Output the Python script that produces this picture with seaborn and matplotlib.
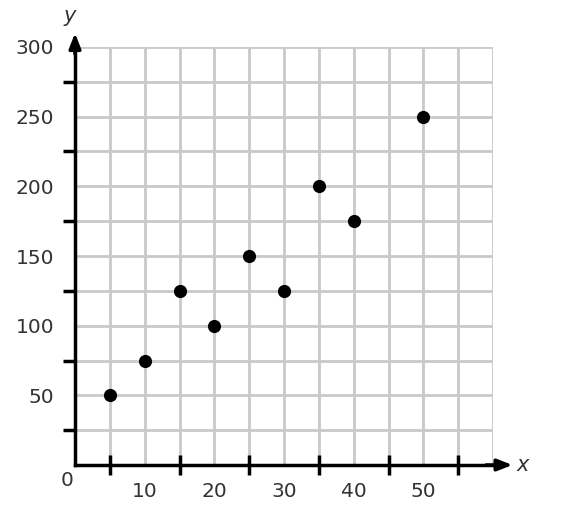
import numpy as np
import pandas as pd
import matplotlib
matplotlib.use("Agg")
import matplotlib.pyplot as plt
import seaborn as sns
from matplotlib.ticker import FixedLocator

x_vals = [5, 10, 15, 20, 25, 30, 35, 40, 50]
y_vals = [50, 75, 125, 100, 150, 125, 200, 175, 250]
x_tick_labels = [10, 20, 30, 40, 50]
y_tick_labels = [50, 100, 150, 200, 250, 300]

sns.set_style("white")
plt.rcParams['font.family'] = ['DejaVu Sans']

fig = plt.figure(figsize=(5.62, 5.18), dpi=100)
ax = fig.add_axes([75/562, 53/518, 418/562, 418/518])
ax.set_axisbelow(False)

df = pd.DataFrame({"x": x_vals, "y": y_vals})

ax.set_xlim(0, 60)
ax.set_ylim(0, 300)

grid_c = "#c9c9c9"
for gx in np.arange(5, 61, 5):
    ax.axvline(gx, color=grid_c, lw=2, zorder=1)
for gy in np.arange(25, 301, 25):
    ax.axhline(gy, color=grid_c, lw=2, zorder=1)

sns.scatterplot(data=df, x="x", y="y", ax=ax, color="black", s=90,
                edgecolor="black", linewidth=0, zorder=5)

for side in ["top", "right"]:
    ax.spines[side].set_visible(False)
for side in ["left", "bottom"]:
    ax.spines[side].set_color("black")
    ax.spines[side].set_linewidth(2.5)
    ax.spines[side].set_zorder(4)

# arrows
ax.annotate("", xy=(62.8, 0), xytext=(59, 0), xycoords="data",
            arrowprops=dict(arrowstyle="-|>,head_length=0.9,head_width=0.35",
                            color="black", lw=2.5, shrinkA=0, shrinkB=0),
            annotation_clip=False, zorder=6)
ax.annotate("", xy=(0, 310), xytext=(0, 295), xycoords="data",
            arrowprops=dict(arrowstyle="-|>,head_length=0.9,head_width=0.35",
                            color="black", lw=2.5, shrinkA=0, shrinkB=0),
            annotation_clip=False, zorder=6)

# x ticks: labels at 10s, marks at odd multiples of 5
ax.xaxis.set_major_locator(FixedLocator(x_tick_labels))
ax.set_xticklabels([str(v) for v in x_tick_labels])
ax.xaxis.set_minor_locator(FixedLocator([5, 15, 25, 35, 45, 55]))
ax.tick_params(axis="x", which="major", length=0, pad=12, labelsize=14.5,
               labelcolor="#333333")
ax.tick_params(axis="x", which="minor", length=14, width=2.5, direction="inout",
               color="black", bottom=True)

# y ticks
ax.yaxis.set_major_locator(FixedLocator(y_tick_labels))
ax.set_yticklabels([str(v) for v in y_tick_labels])
ax.yaxis.set_minor_locator(FixedLocator(np.arange(25, 301, 25)))
ax.tick_params(axis="y", which="major", length=9, width=2.5, direction="out",
               pad=6, labelsize=14.5, labelcolor="#333333", color="black")
ax.tick_params(axis="y", which="minor", length=9, width=2.5, direction="out",
               color="black", left=True)

ax.set_xlabel("")
ax.set_ylabel("")

ax.text(-1.2, -11, "0", ha="center", va="center", fontsize=14.5, color="#333333")
ax.text(-0.7, 322, "y", ha="center", va="center", fontsize=15, style="italic",
        color="#333333")
ax.text(64.2, 0, "x", ha="center", va="center", fontsize=15, style="italic",
        color="#333333")

fig.savefig("out.png", dpi=100, facecolor="white")
